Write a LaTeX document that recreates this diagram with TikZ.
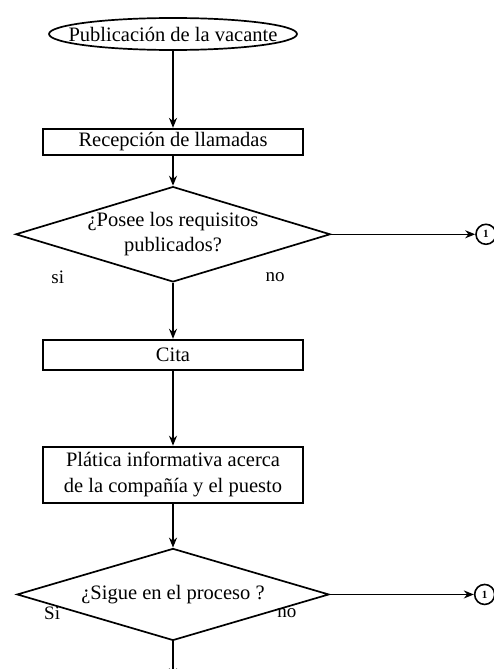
\documentclass[tikz,border=0pt]{standalone}
\usepackage{fontspec}
\setmainfont{Liberation Serif}
\usepackage{tikz}
\usetikzlibrary{shapes.geometric, arrows.meta, positioning}

\tikzstyle{startstop} = [
  ellipse, minimum width=248pt, minimum height=32pt,
  inner xsep=-17pt, inner ysep=1pt,
  draw=black, line width=1.7pt, font=\fontsize{20.5}{24}\selectfont
]
\tikzstyle{process} = [
  rectangle, minimum width=260pt, minimum height=26pt,
  draw=black, line width=1.9pt, align=center,
  font=\fontsize{20.5}{26}\selectfont
]
\tikzstyle{decision} = [
  diamond, aspect=3.3, inner sep=0pt,
  minimum width=312pt, minimum height=94pt,
  draw=black, line width=1.7pt, align=center,
  font=\fontsize{20.5}{25}\selectfont
]
\tikzstyle{connector} = [
  circle, minimum size=20pt, inner sep=0pt,
  draw=black, line width=1.6pt, font=\bfseries\fontsize{11}{12}\selectfont
]
\tikzstyle{answer} = [
  inner sep=0pt, font=\fontsize{19}{22}\selectfont
]
\tikzstyle{arrow} = [
  -{Stealth[length=10pt,width=8pt]}, line width=1.4pt, color=black
]

\begin{document}
\begin{tikzpicture}[node distance=30pt]

  \useasboundingbox (-173pt,34pt) rectangle (321pt,-635pt);

  % ── Main column ───────────────────────────────────────
  \node[startstop] (publica) {Publicación de la vacante};
  \node[process, below=77pt of publica] (recepcion) {Recepción de llamadas};
  \node[decision, below=30pt of recepcion]
    (requisitos) {¿Posee los requisitos\\publicados?};
  \node[process, minimum height=30pt, below=56pt of requisitos]
    (cita) {Cita};
  \node[process, minimum height=56pt, below=75pt of cita]
    (platica) {Plática informativa acerca\\de la compañía y el puesto};
  \node[decision, minimum height=92pt, below=44pt of platica]
    (sigue) {¿Sigue en el proceso ?};
  \coordinate[below=37pt of sigue] (salida);

  % ── Connectors ────────────────────────────────────────
  \node[connector, right=144pt of requisitos] (conec1) {1};
  \node[connector, right=144pt of sigue] (conec2) {1};

  % ── Answers ───────────────────────────────────────────
  \node[answer] (si1) at ([shift={(43pt,-43pt)}]requisitos.west) {si};
  \node[answer] (no1) at ([shift={(-56pt,-43pt)}]requisitos.east) {no};
  \node[answer] (si2) at ([shift={(36pt,-19pt)}]sigue.west) {Si};
  \node[answer] (no2) at ([shift={(-43pt,-19pt)}]sigue.east) {no};

  % ── Arrows ────────────────────────────────────────────
  \draw[arrow] (publica) -- (recepcion);
  \draw[arrow] (recepcion) -- (requisitos);
  \draw[arrow] (requisitos) -- (cita);
  \draw[arrow] (cita) -- (platica);
  \draw[arrow] (platica) -- (sigue);
  \draw[arrow] (sigue) -- (salida);

  \draw[arrow] (requisitos) -- (conec1);
  \draw[arrow] (sigue) -- (conec2);

\end{tikzpicture}
\end{document}
